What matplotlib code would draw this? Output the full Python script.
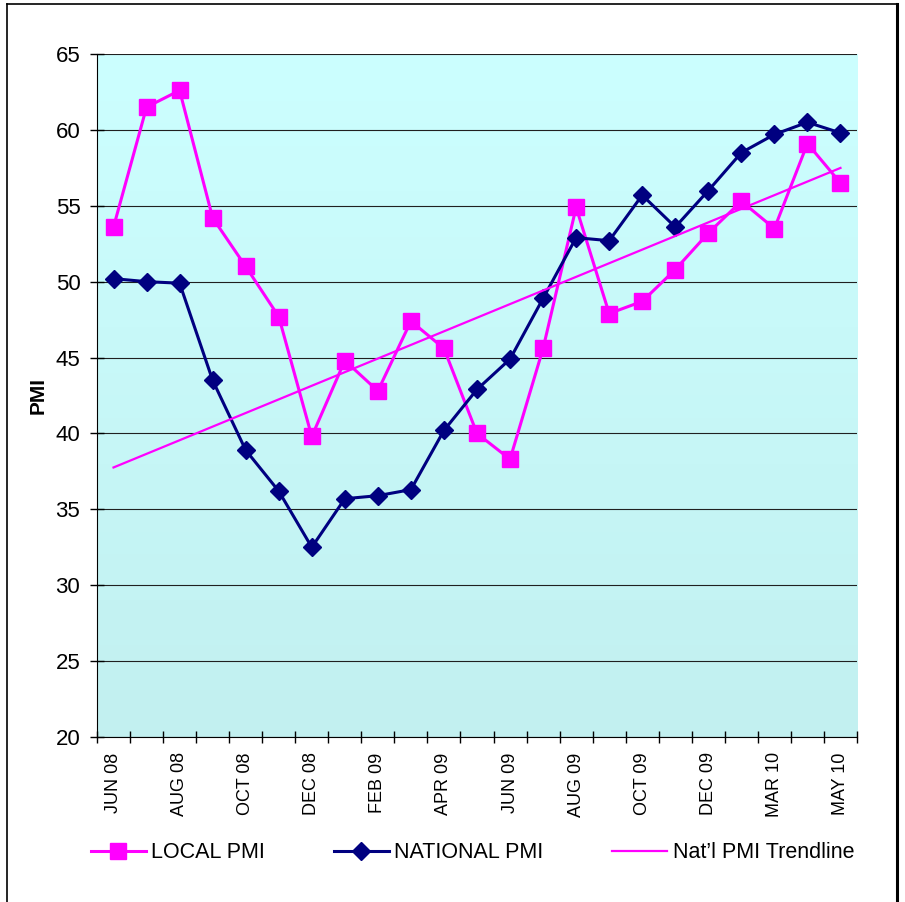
import numpy as np
import matplotlib
matplotlib.use("Agg")
import matplotlib.pyplot as plt
from matplotlib.lines import Line2D

plt.rcParams['font.family'] = ['Liberation Sans', 'DejaVu Sans']

# months shown on the category axis (one point per month)
months = ["JUN 08", "JUL 08", "AUG 08", "SEP 08", "OCT 08", "NOV 08", "DEC 08",
          "JAN 09", "FEB 09", "MAR 09", "APR 09", "MAY 09", "JUN 09", "JUL 09",
          "AUG 09", "SEP 09", "OCT 09", "NOV 09", "DEC 09", "FEB 10", "MAR 10",
          "APR 10", "MAY 10"]
shown_labels = ["JUN 08", "AUG 08", "OCT 08", "DEC 08", "FEB 09", "APR 09",
                "JUN 09", "AUG 09", "OCT 09", "DEC 09", "MAR 10", "MAY 10"]

local_pmi = [53.6, 61.5, 62.6, 54.2, 51.0, 47.7, 39.8, 44.8, 42.8, 47.4, 45.6, 40.0,
             38.3, 45.6, 54.9, 47.9, 48.7, 50.8, 53.2, 55.3, 53.5, 59.1, 56.5]
national_pmi = [50.2, 50.0, 49.9, 43.5, 38.9, 36.2, 32.5, 35.7, 35.9, 36.3, 40.2, 42.9,
                44.9, 48.9, 52.9, 52.7, 55.7, 53.6, 56.0, 58.5, 59.7, 60.5, 59.8]

x = np.arange(len(months))

fig = plt.figure(figsize=(9.05, 9.02), dpi=100)
ax = fig.add_axes([97/905, 1 - 737/902, (857-97)/905, (737-54)/902])

ax.set_xlim(-0.5, len(months) - 0.5)
ax.set_ylim(20, 65)

# gradient background for the plot area (light at top)
grad = np.linspace(0, 1, 256).reshape(-1, 1)
cmap = matplotlib.colors.LinearSegmentedColormap.from_list("bg", ["#CCFFFF", "#C2F0F0"])
ax.imshow(grad, aspect='auto', cmap=cmap, extent=[-0.5, len(months) - 0.5, 20, 65],
          zorder=0, origin='upper')

ax.yaxis.grid(True, color='#202020', linewidth=0.8, zorder=1)
ax.set_axisbelow(True)

# trendline of national pmi
coef = np.polyfit(x, national_pmi, 1)
trend = np.polyval(coef, x)

ax.plot(x, local_pmi, color='#FF00FF', linewidth=2.2, marker='s', markersize=11,
        label='LOCAL PMI', zorder=3)
ax.plot(x, national_pmi, color='#000080', linewidth=2.2, marker='D', markersize=9.5,
        label='NATIONAL PMI', zorder=3)
ax.plot(x, trend, color='#FF00FF', linewidth=1.6, label="Nat\u2019l PMI Trendline", zorder=4)

ax.set_yticks(np.arange(20, 66, 5))
ax.tick_params(axis='y', labelsize=16, direction='inout', length=10, width=1, pad=7)

ax.set_xticks([months.index(m) for m in shown_labels])
ax.set_xticklabels(shown_labels, rotation=90, fontsize=13)
ax.set_xticks(np.arange(-0.5, len(months), 1), minor=True)
ax.tick_params(axis='x', which='major', length=0, pad=11)
ax.tick_params(axis='x', which='minor', direction='inout', length=8, width=1)

ax.set_ylabel('PMI', fontsize=15, fontweight='bold', labelpad=6)

for s in ['top', 'right']:
    ax.spines[s].set_visible(False)
ax.spines['left'].set_color('black')
ax.spines['bottom'].set_color('black')

fig.legend(loc='center', bbox_to_anchor=(0.522, 1 - 853/902), ncol=3, frameon=False,
           fontsize=15.5, handlelength=2.55, columnspacing=3.2, handletextpad=0.25)

# outer border
fig.add_artist(Line2D([7/905, 7/905], [0, 1 - 4/902], color='black', linewidth=1.2))
fig.add_artist(Line2D([7/905, 897/905], [1 - 4/902, 1 - 4/902], color='black', linewidth=1.2))
fig.add_artist(Line2D([897/905, 897/905], [0, 1 - 4/902], color='black', linewidth=2.2))

fig.savefig('out.png', dpi=100)
